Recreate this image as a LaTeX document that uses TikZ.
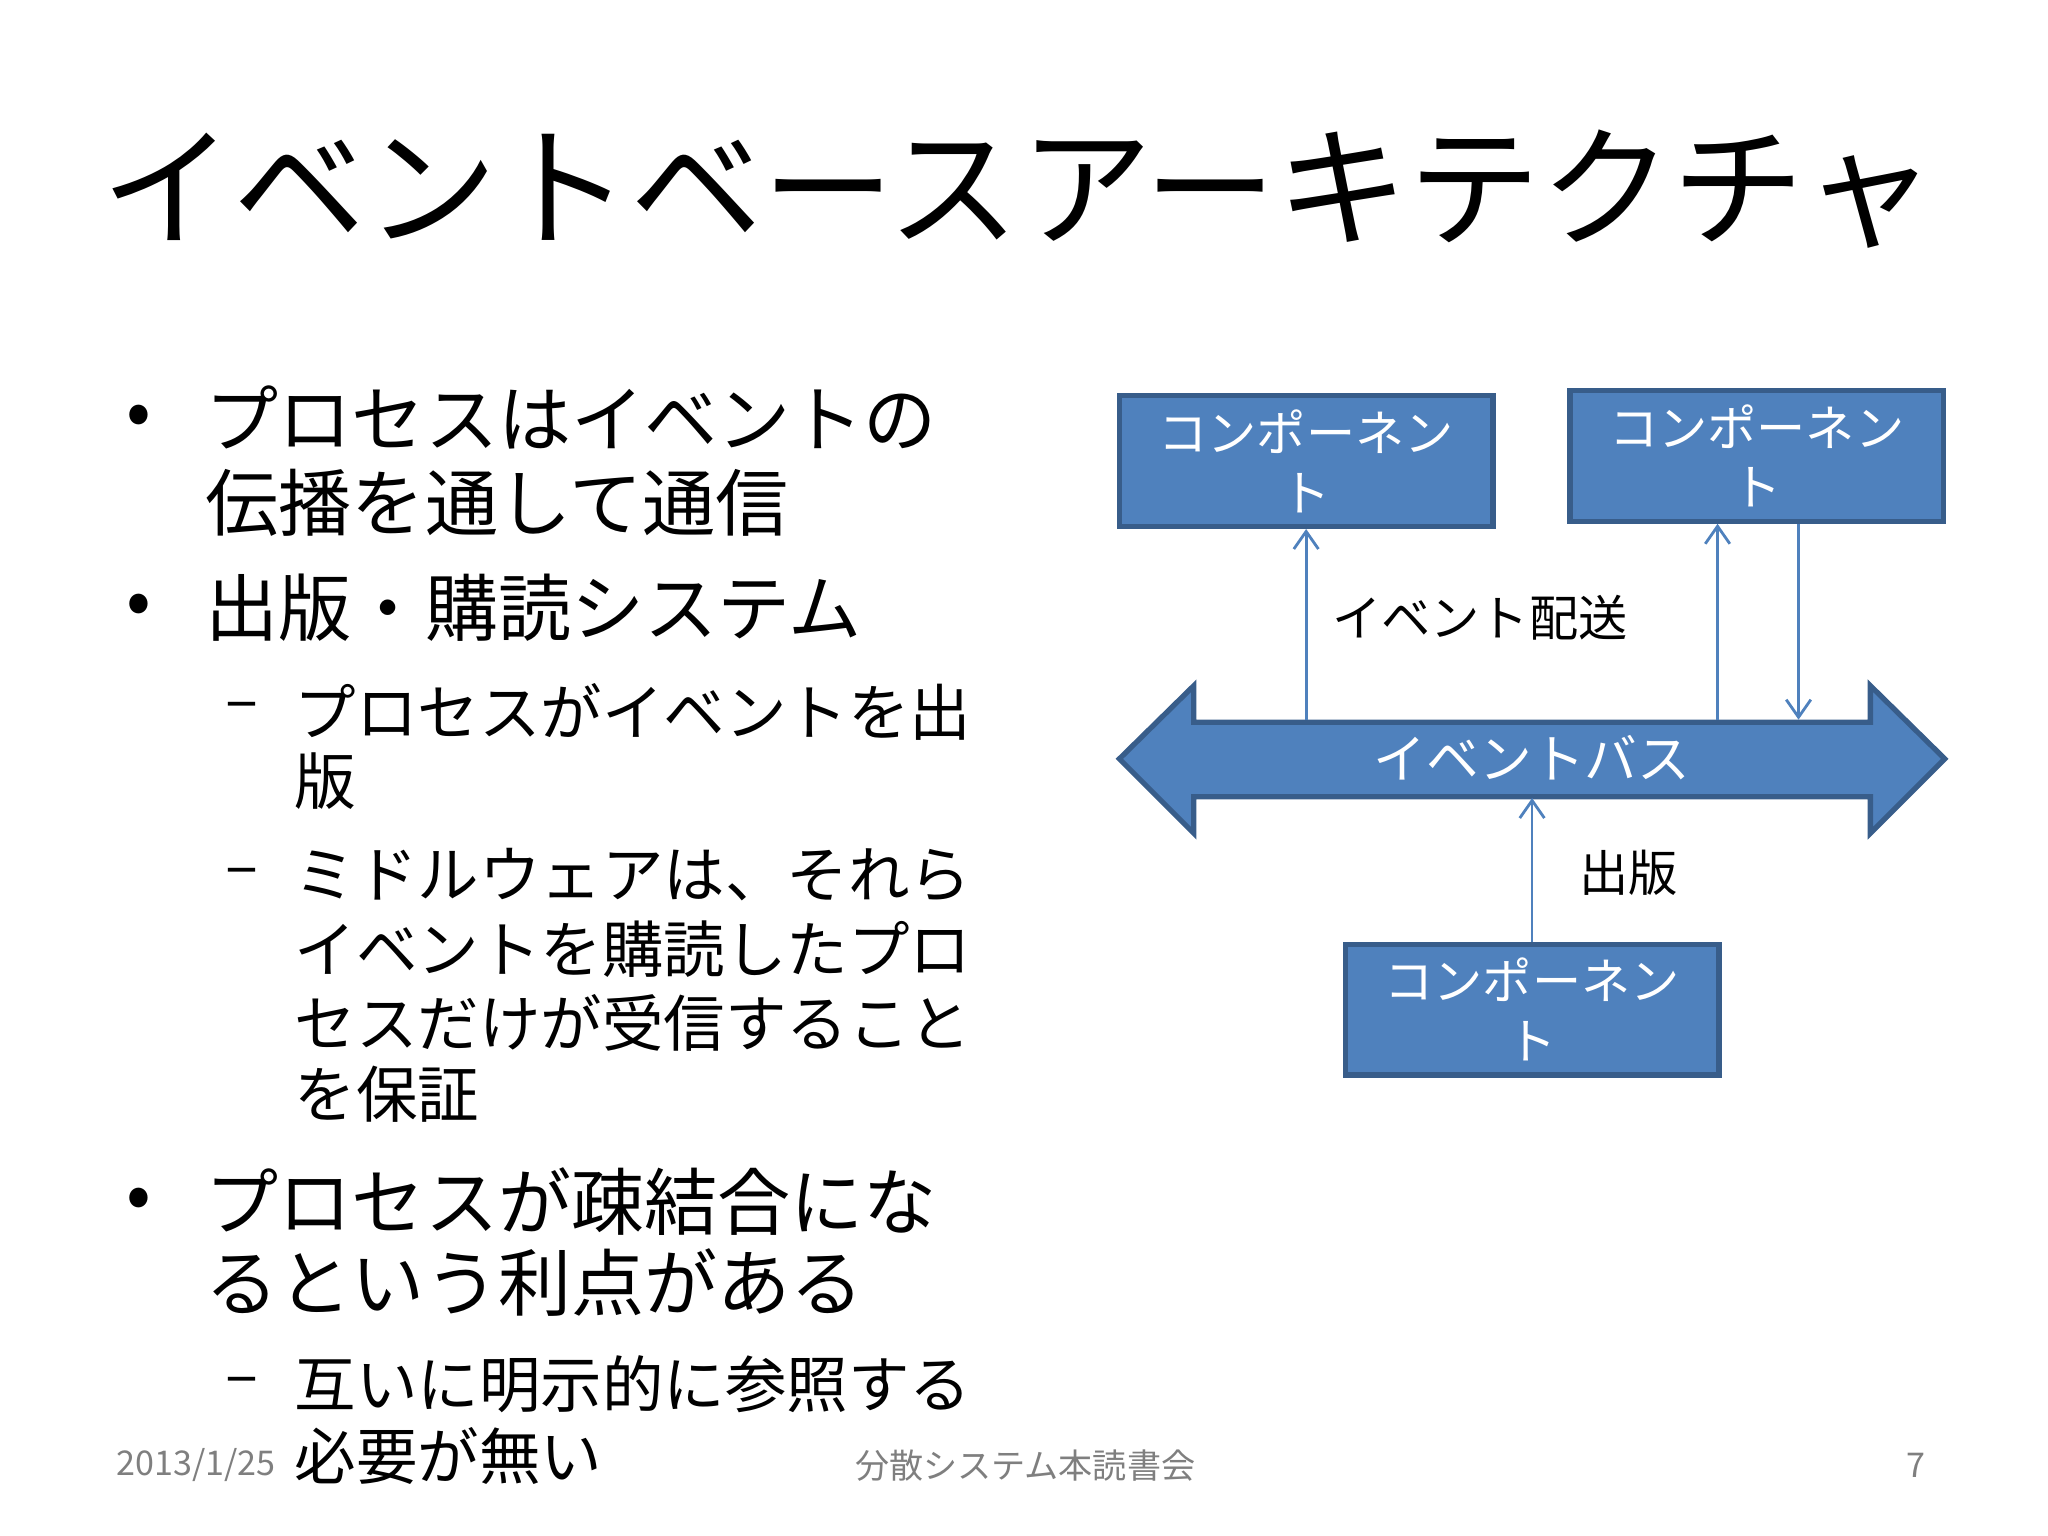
\documentclass[tikz,border=0pt]{standalone}
\usepackage{fontspec}
\setmainfont{Noto Sans CJK JP}
\usetikzlibrary{shapes.arrows,arrows.meta}
\definecolor{boxblue}{HTML}{4F81BD}
\definecolor{boxedge}{HTML}{385D8A}
\definecolor{footgrey}{HTML}{7F7F7F}
\begin{document}
\begin{tikzpicture}[x=0.01306cm,y=-0.01306cm,
  comp/.style={draw=boxedge,line width=1.5pt,fill=boxblue,text=white,font=\fontsize{14}{17}\selectfont,align=center,minimum width=286*0.01306cm,minimum height=100*0.01306cm,inner sep=0pt},
  btxt/.style={anchor=west,inner sep=0pt,font=\fontsize{20.8}{24}\selectfont},
  stxt/.style={anchor=west,inner sep=0pt,font=\fontsize{17.5}{21}\selectfont},
  conn/.style={draw=boxblue,line width=0.8pt,-{Straight Barb[length=5pt,width=7pt]}},
  lab/.style={inner sep=0pt,font=\fontsize{14}{17}\selectfont},
  foot/.style={inner sep=0pt,text=footgrey,font=\fontsize{9.7}{12}\selectfont}]
\useasboundingbox (0,0) rectangle (1568,1176);
\node[inner sep=0pt,font=\fontsize{37.6}{44}\selectfont] (title) at (780,145) {イベントベースアーキテクチャ};
% bullets
\node[btxt] (d1) at (96,322) {•};
\node[btxt] (l1) at (157,320) {プロセスはイベントの};
\node[btxt] (l2) at (157,385) {伝播を通して通信};
\node[btxt] (d2) at (96,467) {•};
\node[btxt] (l3) at (157,465) {出版・購読システム};
\node[stxt] (s1) at (172,545) {–};
\node[stxt] (l4) at (225,545) {プロセスがイベントを出};
\node[stxt] (l5) at (225,598) {版};
\node[stxt] (s2) at (172,672) {–};
\node[stxt] (l6) at (225,670) {ミドルウェアは、それら};
\node[stxt] (l7) at (225,727) {イベントを購読したプロ};
\node[stxt] (l8) at (225,783) {セスだけが受信すること};
\node[stxt] (l9) at (225,838) {を保証};
\node[btxt] (d3) at (96,922) {•};
\node[btxt] (l10) at (157,920) {プロセスが疎結合にな};
\node[btxt] (l11) at (157,982) {るという利点がある};
\node[stxt] (s3) at (172,1062) {–};
\node[stxt] (l12) at (225,1060) {互いに明示的に参照する};
\node[stxt] (l13) at (225,1115) {必要が無い};
% footer
\node[foot] (f1) at (150,1122) {2013/1/25};
\node[foot] (f2) at (785,1122) {分散システム本読書会};
\node[foot] (f3) at (1467,1122) {7};
% diagram
\node[comp] (c1) at (1000,353) {コンポーネン\\ト};
\node[comp] (c2) at (1345,349) {コンポーネン\\ト};
\node[comp] (c3) at (1173,773) {コンポーネン\\ト};
\draw[draw=boxedge,line width=1.5pt,fill=boxblue] (857,581) -- (914,525) -- (914,553) -- (1432,553) -- (1432,525) -- (1489,581) -- (1432,638) -- (1432,610) -- (914,610) -- (914,638) -- cycle;
\node[inner sep=0pt,text=white,font=\fontsize{15}{18}\selectfont] (bus) at (1173,580) {イベントバス};
\coordinate (b1) at (1000,551);
\coordinate (b2) at (1315,551);
\coordinate (b3) at (1377,551);
\coordinate (b4) at (1173,611);
\draw[conn] (b1) -- (c1.south);
\draw[conn] (b2) -- (b2 |- c2.south);
\draw[conn] (c2.south -| b3) -- (b3);
\draw[conn] (c3.north) -- (b4);
\node[lab] (ev) at (1133,473) {イベント配送};
\node[lab] (pub) at (1247,668) {出版};
\end{tikzpicture}
\end{document}
